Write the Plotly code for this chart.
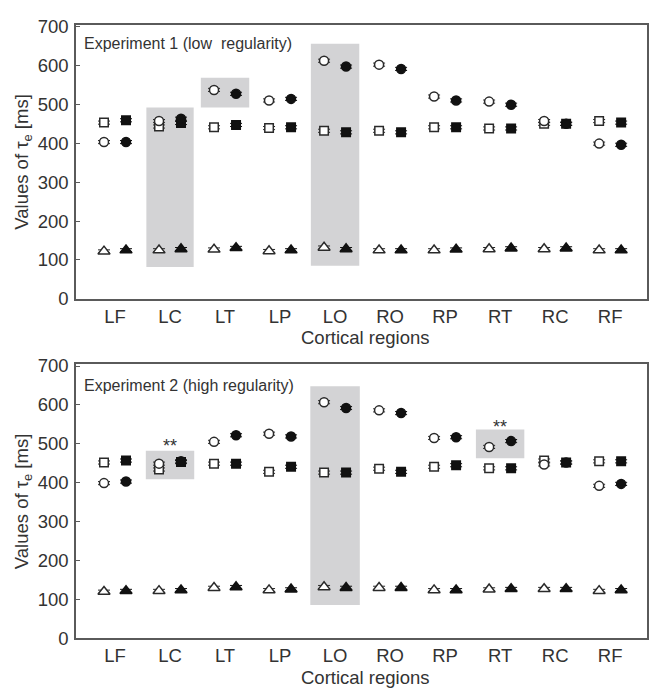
import plotly.graph_objects as go

regions = ["LF", "LC", "LT", "LP", "LO", "RO", "RP", "RT", "RC", "RF"]

# Experiment 1 (low regularity)
e1_sq_open   = [453, 443, 441, 439, 432, 432, 441, 438, 450, 457]
e1_sq_fill   = [459, 452, 447, 441, 428, 428, 441, 438, 450, 453]
e1_ci_open   = [403, 457, 537, 510, 612, 602, 520, 507, 457, 399]
e1_ci_fill   = [403, 463, 527, 514, 597, 591, 510, 499, 450, 396]
e1_tr_open   = [122, 125, 127, 123, 132, 125, 125, 128, 128, 125]
e1_tr_fill   = [125, 128, 131, 125, 128, 125, 127, 130, 130, 125]

# Experiment 2 (high regularity)
e2_sq_open   = [452, 434, 449, 428, 426, 436, 441, 437, 457, 455]
e2_sq_fill   = [457, 453, 449, 441, 426, 428, 445, 437, 452, 455]
e2_ci_open   = [399, 449, 505, 526, 607, 586, 515, 492, 447, 392]
e2_ci_fill   = [403, 455, 522, 519, 592, 579, 517, 507, 452, 397]
e2_tr_open   = [120, 122, 130, 124, 132, 130, 124, 126, 127, 122]
e2_tr_fill   = [122, 124, 132, 126, 130, 130, 124, 127, 127, 124]

err = 4  # small standard errors (ms)

# highlighted regions: (category index, x half-width, y low, y high)
e1_boxes = [(1, 0.43, 82, 492), (2, 0.44, 492, 568), (4, 0.44, 85, 656)]
e2_boxes = [(1, 0.44, 409, 482), (4, 0.45, 86, 648), (7, 0.44, 463, 537)]

# significance marks: (category index, value)
e2_sig = [(1, 494), (7, 544)]

titles = ["Experiment 1 (low\u00a0\u00a0regularity)", "Experiment 2 (high regularity)"]

W, H = 649, 697
FONT = "Liberation Sans, Arial, sans-serif"
TXT = "#333333"
FRAME = "#5a5a5a"
OPEN_LINE = "#2a2a2a"
FILL = "#111111"

x_left_px, x_right_px = 76, 647
panels = [  # (bottom px of y=0, top px)
    (298, 16),
    (647, 365),
]
title_ypos = [0.93, 0.923]

fig = go.Figure()
off = 0.2

datasets = [
    (e1_sq_open, e1_sq_fill, e1_ci_open, e1_ci_fill, e1_tr_open, e1_tr_fill),
    (e2_sq_open, e2_sq_fill, e2_ci_open, e2_ci_fill, e2_tr_open, e2_tr_fill),
]

xi = list(range(len(regions)))

for p, ds in enumerate(datasets):
    xa = "x" if p == 0 else "x2"
    ya = "y" if p == 0 else "y2"
    sq_o, sq_f, ci_o, ci_f, tr_o, tr_f = ds
    specs = [
        (sq_o, -off, "square", True, 8.5),
        (sq_f, off, "square", False, 8.5),
        (ci_o, -off, "circle", True, 9),
        (ci_f, off, "circle", False, 9),
        (tr_o, -off, "triangle-up", True, 10.5),
        (tr_f, off, "triangle-up", False, 10.5),
    ]
    for vals, dx, sym, is_open, size in specs:
        fig.add_trace(go.Scatter(
            x=[i + dx for i in xi], y=vals, mode="markers",
            xaxis=xa, yaxis=ya, showlegend=False,
            marker=dict(symbol=sym, size=size,
                        color="white" if is_open else FILL,
                        line=dict(color=OPEN_LINE if is_open else FILL, width=1.5)),
            error_y=dict(type="constant", value=err, color=OPEN_LINE if is_open else FILL,
                         thickness=1, width=6),
        ))

shapes = []
for p, boxes in enumerate([e1_boxes, e2_boxes]):
    xr = "x" if p == 0 else "x2"
    yr = "y" if p == 0 else "y2"
    for ci, hw, y0, y1 in boxes:
        shapes.append(dict(type="rect", xref=xr, yref=yr, x0=ci - hw, x1=ci + hw,
                           y0=y0, y1=y1, fillcolor="#d3d3d5", line=dict(width=0),
                           layer="below"))

annotations = []
for p in range(2):
    bot, top = panels[p]
    xr = "x domain" if p == 0 else "x2 domain"
    yr = "y domain" if p == 0 else "y2 domain"
    annotations.append(dict(text=titles[p], xref=xr, yref=yr, x=0.011, y=title_ypos[p],
                            xanchor="left", yanchor="middle", showarrow=False,
                            font=dict(family=FONT, size=16, color=TXT)))
    annotations.append(dict(text="Values of τ<sub>e</sub> [ms]", xref="paper", yref="paper",
                            x=23 / W, y=1 - ((bot + top) / 2) / H, textangle=-90,
                            xanchor="center", yanchor="middle", showarrow=False,
                            font=dict(family=FONT, size=18.5, color=TXT)))
    annotations.append(dict(text="Cortical regions", xref="paper", yref="paper",
                            x=365 / W, y=1 - (bot + 40) / H,
                            xanchor="center", yanchor="middle", showarrow=False,
                            font=dict(family=FONT, size=18.5, color=TXT)))

for ci, v in e2_sig:
    annotations.append(dict(text="**", xref="x2", yref="y2", x=ci, y=v,
                            xanchor="center", yanchor="middle", showarrow=False,
                            font=dict(family=FONT, size=18, color=TXT)))

def xaxis_cfg(anchor):
    return dict(domain=[x_left_px / W, x_right_px / W], range=[-0.709, 9.67],
                tickmode="array", tickvals=xi, ticktext=regions,
                showline=True, mirror=True, linecolor=FRAME, linewidth=1.5,
                showgrid=False, zeroline=False, ticks="", anchor=anchor,
                tickfont=dict(family=FONT, size=18.5, color=TXT),
                ticklabelstandoff=0)

def yaxis_cfg(p, anchor):
    bot, top = panels[p]
    return dict(domain=[1 - bot / H, 1 - top / H], range=[0, 705],
                tickmode="array", tickvals=[0, 100, 200, 300, 400, 500, 600, 700],
                showline=True, mirror=True, linecolor=FRAME, linewidth=1.5,
                showgrid=False, zeroline=False, ticks="inside", ticklen=4,
                tickcolor=FRAME, tickwidth=1.2, anchor=anchor,
                tickfont=dict(family=FONT, size=18.5, color=TXT),
                ticklabelstandoff=2)

fig.update_layout(
    width=W, height=H, margin=dict(l=0, r=0, t=0, b=0),
    paper_bgcolor="white", plot_bgcolor="white",
    xaxis=xaxis_cfg("y"), yaxis=yaxis_cfg(0, "x"),
    xaxis2=xaxis_cfg("y2"), yaxis2=yaxis_cfg(1, "x2"),
    shapes=shapes, annotations=annotations,
)

fig.write_html("out.html")
